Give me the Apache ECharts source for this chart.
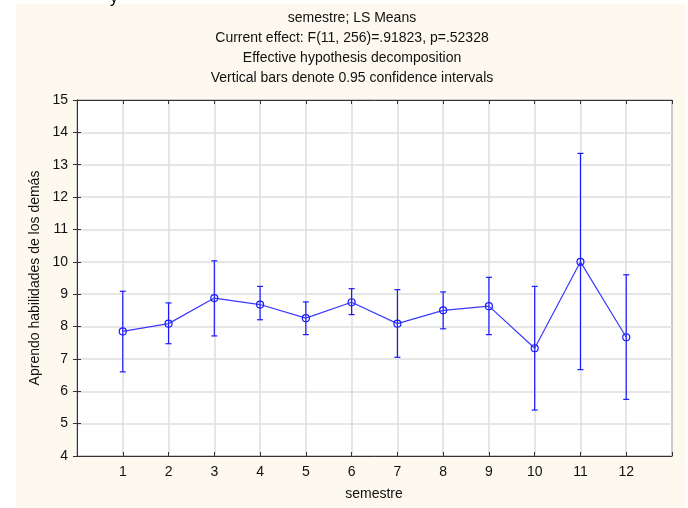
<!DOCTYPE html>
<html>
<head>
<meta charset="utf-8">
<script src="https://cdn.jsdelivr.net/npm/echarts@6/dist/echarts.min.js"></script>
<style>
html,body{margin:0;padding:0;background:#ffffff;}
#c{width:688px;height:508px;}
</style>
</head>
<body>
<div id="c"></div>
<script>
var semesters = [1,2,3,4,5,6,7,8,9,10,11,12];
var means = [7.85, 8.09, 8.88, 8.68, 8.26, 8.75, 8.09, 8.50, 8.63, 7.33, 10.0, 7.67];
var upper = [9.09, 8.73, 10.03, 9.24, 8.76, 9.17, 9.14, 9.07, 9.52, 9.24, 13.35, 9.60];
var lower = [6.60, 7.47, 7.71, 8.21, 7.75, 8.37, 7.05, 7.93, 7.75, 5.42, 6.67, 5.75];
var titleLines = ["semestre; LS Means", "Current effect: F(11, 256)=.91823, p=.52328", "Effective hypothesis decomposition", "Vertical bars denote 0.95 confidence intervals"];
var yTitle = "Aprendo habilidades de los demás";
var xTitle = "semestre";

var lineData = semesters.map(function(s,i){return [s, means[i]];});
var errData = semesters.map(function(s,i){return [s, lower[i], upper[i]];});
var blue = '#1a1aff';
var font = 'Liberation Sans, Arial, sans-serif';

var chart = echarts.init(document.getElementById('c'), null, {renderer:'canvas'});
var gridRect = {left:77, top:100, width:595, height:356};
var opt = {
  animation:false,
  backgroundColor:'#ffffff',
  graphic:[
    {type:'rect', z:-10, shape:{x:16, y:4, width:670, height:504}, style:{fill:'#fdf9ee'}},
    {type:'text', z:10, left:110, top:-9, style:{text:'y', fill:'#000', font:'16px '+font}}
  ].concat(titleLines.map(function(t,i){
    return {type:'text', style:{text:t, x:352, y:18+i*20, textAlign:'center', textVerticalAlign:'middle', fill:'#111', font:'14px '+font}};
  })).concat([
    {type:'text', rotation:Math.PI/2, x:35, y:278, style:{text:yTitle, textAlign:'center', textVerticalAlign:'middle', fill:'#111', font:'14px '+font}},
    {type:'text', style:{text:xTitle, x:374, y:494, textAlign:'center', textVerticalAlign:'middle', fill:'#111', font:'14px '+font}}
  ]),
  grid:{left:gridRect.left, top:gridRect.top, width:gridRect.width, height:gridRect.height, show:true, backgroundColor:'#ffffff', borderColor:'#333', borderWidth:1, containLabel:false},
  xAxis:[{
    type:'value', min:0, max:13, interval:1, position:'bottom',
    axisLine:{show:true, lineStyle:{color:'#333'}},
    axisTick:{show:true, inside:true, length:4, lineStyle:{color:'#333'}},
    axisLabel:{color:'#111', fontSize:14, fontFamily:font, margin:9,
      formatter:function(v){return (v>=1 && v<=12)? String(v) : '';}},
    splitLine:{show:true, lineStyle:{color:'#dedede', width:1.5}}
  },{
    type:'value', min:0, max:13, interval:1, position:'top',
    axisLine:{show:true, lineStyle:{color:'#333'}},
    axisTick:{show:true, inside:true, length:4, lineStyle:{color:'#333'}},
    axisLabel:{show:false}, splitLine:{show:false}
  }],
  yAxis:[{
    type:'value', min:4, max:15, interval:1, position:'left',
    axisLine:{show:true, lineStyle:{color:'#333'}},
    axisTick:{show:true, inside:true, length:4, lineStyle:{color:'#333'}},
    axisLabel:{color:'#111', fontSize:14, fontFamily:font, margin:9},
    splitLine:{show:true, lineStyle:{color:'#dedede', width:1.5}}
  },{
    type:'value', min:4, max:15, interval:1, position:'right',
    axisLine:{show:true, lineStyle:{color:'#333'}},
    axisTick:{show:true, inside:true, length:4, lineStyle:{color:'#333'}},
    axisLabel:{show:false}, splitLine:{show:false}
  }],
  series:[{
    type:'custom',
    xAxisIndex:0, yAxisIndex:0,
    data:errData,
    z:3,
    renderItem:function(params, api){
      var x = api.value(0);
      var lo = api.coord([x, api.value(1)]);
      var hi = api.coord([x, api.value(2)]);
      var cw = 3;
      var st = {stroke:blue, lineWidth:1.2};
      return {type:'group', children:[
        {type:'line', shape:{x1:lo[0], y1:lo[1], x2:hi[0], y2:hi[1]}, style:st},
        {type:'line', shape:{x1:lo[0]-cw, y1:lo[1], x2:lo[0]+cw, y2:lo[1]}, style:st},
        {type:'line', shape:{x1:hi[0]-cw, y1:hi[1], x2:hi[0]+cw, y2:hi[1]}, style:st}
      ]};
    }
  },{
    type:'line',
    xAxisIndex:0, yAxisIndex:0,
    data:lineData,
    z:4,
    lineStyle:{color:'#3a3aff', width:1.2},
    symbol:'circle', symbolSize:7,
    itemStyle:{color:'rgba(255,255,255,0)', borderColor:blue, borderWidth:1.2}
  }]
};
chart.setOption(opt);
</script>
</body>
</html>
